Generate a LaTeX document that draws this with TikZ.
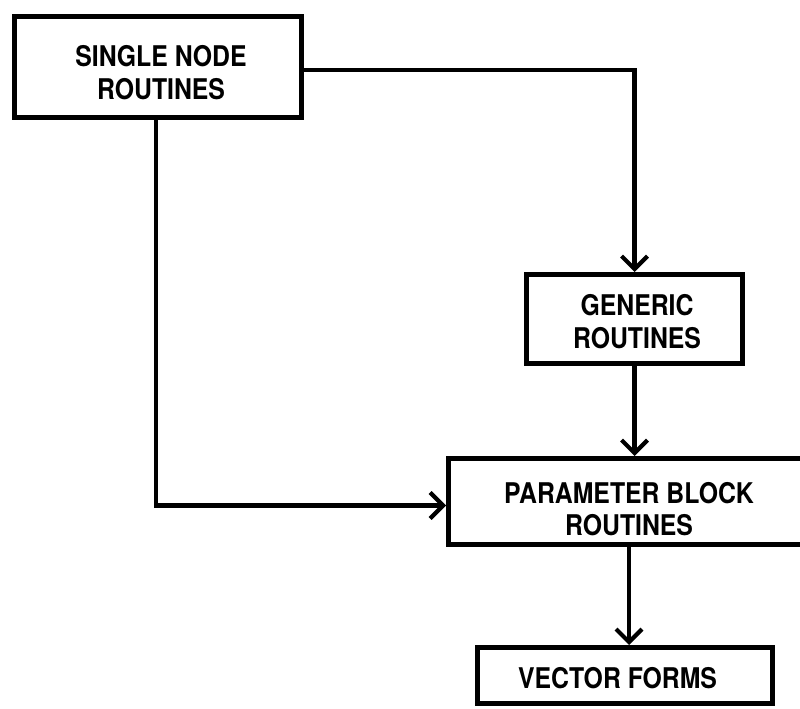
\documentclass[tikz,border=0pt]{standalone}
\usepackage{fontspec}
\setmainfont{TeX Gyre Heros}[FakeStretch=0.87]
\usetikzlibrary{arrows.meta}
\begin{document}
\begin{tikzpicture}[x=1pt,y=-1pt,
  box/.style={draw=black,line width=5pt,rectangle,inner sep=0pt},
  txt/.style={inner sep=0pt,align=center,
    font=\bfseries\fontsize{28.5}{32.5}\selectfont},
  conn/.style={line width=4.2pt,line cap=round,line join=miter,
    -{Straight Barb[length=13pt,width=26pt,line width=4.2pt]}}]
\useasboundingbox (0,0) rectangle (800,709);
\clip (0,0) rectangle (800,709);
\fill[white] (0,0) rectangle (800,709);
\node[box,minimum width=287pt,minimum height=101pt] (b1) at (158,67) {};
\node[box,minimum width=216pt,minimum height=89pt] (b2) at (634.5,319) {};
\node[box,minimum width=361pt,minimum height=86pt] (b3) at (629,501.5) {};
\node[box,minimum width=295pt,minimum height=56pt] (b4) at (625,675.5) {};
\node[txt] (t1) at ([xshift=3pt,yshift=-5.5pt]b1.center) {SINGLE NODE\\ROUTINES};
\node[txt] (t2) at ([xshift=2.5pt,yshift=-2.5pt]b2.center) {GENERIC\\ROUTINES};
\node[txt] (t3) at ([xshift=0pt,yshift=-7.5pt]b3.center) {PARAMETER BLOCK\\ROUTINES};
\node[txt] (t4) at ([xshift=-7.5pt,yshift=-2.5pt]b4.center) {VECTOR FORMS};
\draw[conn] ([yshift=-3pt]b1.east) -| (b2.north);
\draw[conn] ([xshift=-2pt]b1.south) |- ([yshift=-4pt]b3.west);
\draw[conn] (b2.south) -- (b2.south |- b3.north);
\draw[conn] (b3.south) -- (b3.south |- b4.north);
\end{tikzpicture}
\end{document}
